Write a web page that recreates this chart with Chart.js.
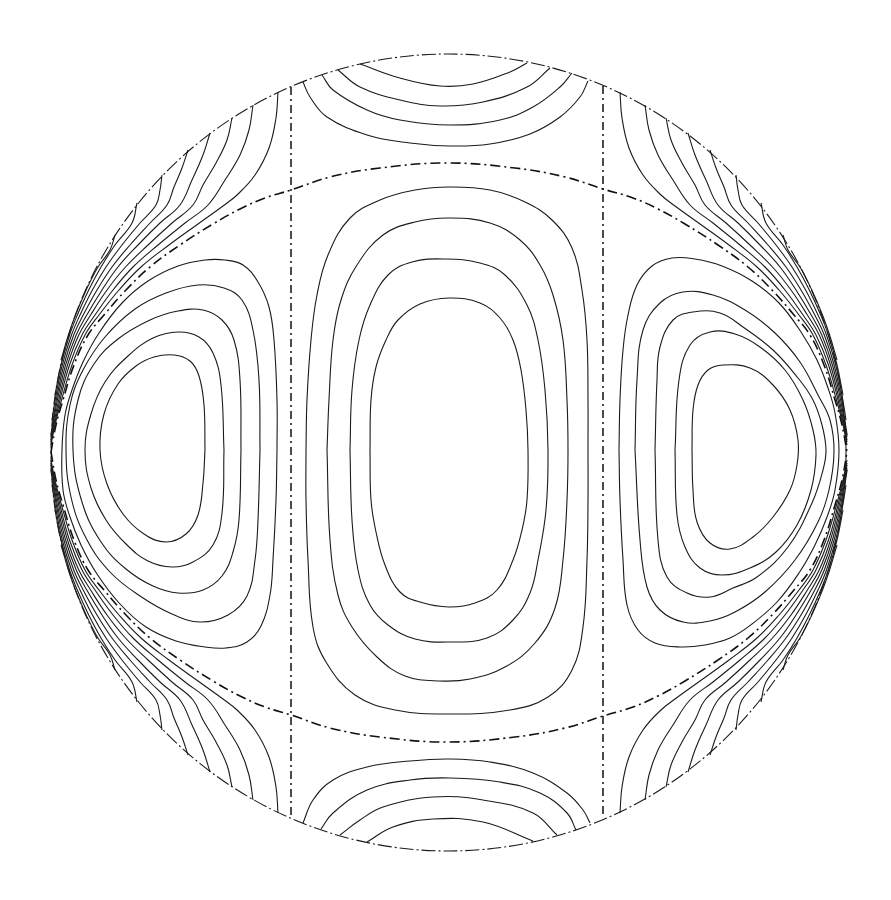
<!DOCTYPE html>
<html>
<head>
<meta charset="utf-8">
<style>
  html, body { margin: 0; padding: 0; background: #ffffff; }
  canvas { display: block; }
</style>
<script src="https://cdn.jsdelivr.net/npm/chart.js@4/dist/chart.umd.min.js"></script>
</head>
<body>
<canvas id="c" width="891" height="900"></canvas>
<script>
// ---- Plot frame (data units = reference picture units) ----
const xRange = [0, 891];
const yRange = [0, 900];
const boundaryCenter = [448.5, 452.5];
const boundaryRadii = [397.5, 398.5];

// ---- Nodal lines (dash-dot) ----
const nodalVerticalLeft = [[291, 87], [291, 818]];
const nodalVerticalRight = [[603, 86], [603, 818]];
const nodalTop = [[51,452],[56,425],[63,400],[74,365],[88,335],[104,315],[126,290],[150,267],[180,245],[213,224],[240,209],[265,198],[291,190],[330,177],[380,168],[447,163],[515,168],[565,177],[603,189],[633,198],[658,209],[685,224],[718,245],[748,267],[772,290],[794,315],[810,335],[824,365],[835,400],[842,425],[847,452]];
const nodalBottom = [[51,452],[56,480],[63,505],[74,540],[88,570],[104,590],[126,615],[150,638],[180,660],[213,681],[240,696],[265,707],[291,715],[330,728],[380,737],[447,742],[515,737],[565,728],[603,716],[633,707],[658,696],[685,681],[718,660],[748,638],[772,615],[794,590],[810,570],[824,540],[835,505],[842,480],[847,452]];

// ---- Central closed contours (outer to inner) ----
const centerLoop1 = [[306,450],[307,400],[311,340],[317,295],[328,255],[350,218],[380,200],[415,190],[450,187],[490,190],[525,202],[552,220],[572,248],[582,290],[587,340],[588,400],[588,450],[588,500],[587,560],[583,627],[572,670],[548,697],[510,710],[450,714],[395,710],[355,695],[326,662],[313,627],[308,560],[306,500],[306,450]];
const centerLoop2 = [[327,450],[329,400],[333,340],[341,300],[357,265],[383,235],[415,222],[450,218],[490,223],[520,240],[540,265],[553,295],[563,340],[567,400],[568,450],[567,500],[563,560],[555,608],[535,643],[505,667],[470,679],[440,681],[405,676],[377,657],[352,627],[338,595],[330,540],[327,450]];
const centerLoop3 = [[350,450],[352,390],[359,340],[370,305],[388,275],[412,262],[445,259],[480,263],[505,275],[527,305],[538,340],[545,390],[548,450],[546,510],[538,560],[530,593],[513,620],[487,638],[450,642],[415,639],[388,625],[370,605],[358,570],[352,520],[350,450]];
const centerLoop4 = [[370,450],[371,400],[376,367],[386,340],[398,320],[420,304],[449,298],[480,303],[500,318],[513,340],[521,370],[526,410],[528,450],[527,500],[522,530],[513,560],[497,590],[475,603],[449,607],[420,602],[400,592],[385,565],[376,532],[371,500],[370,450]];

// ---- Left lobe contours (outer to inner) ----
const leftLobe1 = [[277,450],[276,500],[273,560],[270,595],[261,626],[247,642],[226,648],[205,647],[176,641],[146,627],[120,604],[97,574],[81,545],[70,517],[63,490],[62,450],[65,415],[72,390],[83,362],[99,333],[122,303],[148,281],[178,266],[205,260],[225,260],[243,265],[258,282],[269,307],[274,340],[277,400],[277,450]];
const leftLobe2 = [[260,450],[258,520],[255,560],[247,596],[228,615],[200,622],[172,614],[140,596],[110,572],[86,538],[71,497],[66,450],[70,405],[83,370],[105,337],[135,309],[166,293],[198,285],[224,288],[242,300],[253,330],[259,380],[260,450]];
const leftLobe3 = [[241,450],[239,520],[233,552],[222,576],[203,590],[178,593],[153,586],[126,569],[101,542],[82,502],[73,450],[78,400],[94,364],[118,339],[150,320],[178,311],[203,310],[222,320],[234,340],[240,380],[241,450]];
const leftLobe4 = [[224,450],[222,513],[213,545],[193,562],[172,567],[148,561],[126,544],[106,520],[91,488],[85,450],[91,414],[105,382],[128,356],[153,338],[178,332],[199,337],[213,353],[221,385],[224,450]];
const leftLobe5 = [[205,450],[203,483],[198,515],[186,534],[166,542],[144,534],[123,514],[107,484],[100,450],[104,414],[118,384],[136,366],[154,357],[174,355],[190,361],[199,376],[204,405],[205,450]];

// ---- Right lobe contours (outer to inner) ----
const rightLobe1 = [[619,450],[620,500],[623,560],[627,605],[638,630],[655,643],[680,647],[705,645],[730,638],[752,624],[777,602],[799,573],[815,545],[827,517],[835,490],[839,450],[835,413],[828,388],[817,360],[801,332],[779,303],[752,281],[722,266],[695,259],[672,258],[652,266],[637,285],[628,315],[623,350],[620,400],[619,450]];
const rightLobe2 = [[635,450],[640,540],[647,587],[660,610],[683,622],[710,621],[735,612],[765,592],[795,560],[818,522],[829,490],[834,452],[830,420],[818,395],[800,362],[775,333],[745,310],[713,295],[683,292],[660,303],[643,330],[637,380],[635,450]];
const rightLobe3 = [[655,450],[658,540],[667,577],[687,593],[710,597],[733,588],[757,577],[788,547],[812,503],[823,470],[826,450],[822,425],[813,400],[798,378],[773,350],[743,327],[720,313],[693,312],[673,320],[660,347],[657,380],[655,450]];
const rightLobe4 = [[675,450],[677,515],[685,547],[700,568],[722,575],[750,568],[776,552],[797,525],[811,490],[816,455],[813,430],[803,400],[785,370],[760,347],[735,334],[710,332],[690,345],[679,380],[675,450]];
const rightLobe5 = [[692,450],[693,490],[697,522],[710,543],[730,549],[753,537],[773,517],[790,490],[797,465],[798,440],[790,410],[773,385],[750,368],[723,365],[708,370],[698,385],[693,410],[692,450]];

// ---- Top and bottom boundary arcs (outer to inner) ----
const topArc1 = [[303,82],[310,97],[327,117],[367,135],[410,143],[450,146],[490,144],[530,134],[560,117],[580,97],[588,81]];
const topArc2 = [[322,75],[333,90],[367,110],[400,120],[450,125],[500,120],[533,107],[560,87],[572,73]];
const topArc3 = [[338,70],[360,87],[400,100],[440,106],[483,102],[527,87],[550,68]];
const topArc4 = [[360,64],[400,78],[440,86],[473,84],[510,72],[527,63]];
const bottomArc1 = [[303,823],[313,800],[333,780],[367,767],[410,761],[450,759],[490,762],[533,773],[567,793],[583,810],[590,823]];
const bottomArc2 = [[321,829],[333,813],[367,790],[410,780],[450,778],[500,782],[540,793],[567,813],[576,830]];
const bottomArc3 = [[340,835],[360,820],[383,807],[433,797],[483,800],[533,813],[557,835]];
const bottomArc4 = [[367,842],[393,827],[433,819],[483,822],[533,841]];

// ---- Corner contours: top-left ----
const cornerTL1 = [[278,92],[276,118],[269,148],[255,175],[237,195],[223,206],[198,224],[169,245],[141,267],[119,290],[99,315],[85,335],[72,365],[61.5,400],[55,425],[51,445]];
const cornerTL2 = [[253,105],[249,130],[240,155],[225,180],[208,205],[185,223],[158,245],[133,267],[113,290],[95,315],[82,335],[69.5,365],[60,400],[54.4,425],[51,442]];
const cornerTL3 = [[232,118],[227,140],[216,163],[203,185],[193,205],[172,223],[148,245],[125.5,267],[107,290],[90.6,315],[78.8,335],[67.5,365],[58.7,400],[53.7,425],[51,440]];
const cornerTL4 = [[210,133],[203,155],[192,180],[180,205],[160,223],[138,245],[118,267],[102,290],[86.8,315],[76.2,335],[65.6,365],[57.4,400],[53,425],[51,437]];
const cornerTL5 = [[188,150],[182,168],[174,187],[167,205],[150,223],[130,245],[112,267],[97,290],[83.2,315],[73.7,335],[63.9,365],[56.3,400],[52.4,425],[50.8,435]];
const cornerTL6 = [[162,175],[160,190],[156,205],[140,223],[122,245],[106,267],[92.4,290],[80,315],[71.5,335],[62.3,365],[55.2,400],[52,420]];
const cornerTL7 = [[137,203],[132,223],[115,245],[101,267],[88.7,290],[77.3,315],[69.6,335],[61,365],[55,395]];
const cornerTL8 = [[115,235],[110,250],[98,267],[86.2,290],[75.5,315],[68.4,335],[61,360]];

// ---- Corner contours: top-right ----
const cornerTR1 = [[620,92],[622,118],[629,148],[643,175],[661,195],[675,206],[700,224],[729,245],[757,267],[779,290],[799,315],[813,335],[826,365],[836.5,400],[843,425],[847,445]];
const cornerTR2 = [[645,105],[649,130],[658,155],[673,180],[690,205],[713,223],[740,245],[765,267],[785,290],[803,315],[816,335],[828.5,365],[838,400],[843.6,425],[847,442]];
const cornerTR3 = [[666,118],[671,140],[682,163],[695,185],[705,205],[726,223],[750,245],[772.5,267],[791,290],[807.4,315],[819.2,335],[830.5,365],[839.3,400],[844.3,425],[847,440]];
const cornerTR4 = [[688,133],[695,155],[706,180],[718,205],[738,223],[760,245],[780,267],[796,290],[811.2,315],[821.8,335],[832.4,365],[840.6,400],[845,425],[847,437]];
const cornerTR5 = [[710,150],[716,168],[724,187],[731,205],[748,223],[768,245],[786,267],[801,290],[814.8,315],[824.3,335],[834.1,365],[841.7,400],[845.6,425],[847.2,435]];
const cornerTR6 = [[736,175],[738,190],[742,205],[758,223],[776,245],[792,267],[805.6,290],[818,315],[826.5,335],[835.7,365],[842.8,400],[846,420]];
const cornerTR7 = [[761,203],[766,223],[783,245],[797,267],[809.3,290],[820.7,315],[828.4,335],[837,365],[843,395]];
const cornerTR8 = [[783,235],[788,250],[800,267],[811.8,290],[822.5,315],[829.6,335],[837,360]];

// ---- Corner contours: bottom-left ----
const cornerBL1 = [[278,813],[276,787],[269,757],[255,730],[237,710],[223,699],[198,681],[169,660],[141,638],[119,615],[99,590],[85,570],[72,540],[61.5,505],[55,480],[51,460]];
const cornerBL2 = [[253,800],[249,775],[240,750],[225,725],[208,700],[185,682],[158,660],[133,638],[113,615],[95,590],[82,570],[69.5,540],[60,505],[54.4,480],[51,463]];
const cornerBL3 = [[232,787],[227,765],[216,742],[203,720],[193,700],[172,682],[148,660],[125.5,638],[107,615],[90.6,590],[78.8,570],[67.5,540],[58.7,505],[53.7,480],[51,465]];
const cornerBL4 = [[210,772],[203,750],[192,725],[180,700],[160,682],[138,660],[118,638],[102,615],[86.8,590],[76.2,570],[65.6,540],[57.4,505],[53,480],[51,468]];
const cornerBL5 = [[188,755],[182,737],[174,718],[167,700],[150,682],[130,660],[112,638],[97,615],[83.2,590],[73.7,570],[63.9,540],[56.3,505],[52.4,480],[50.8,470]];
const cornerBL6 = [[162,730],[160,715],[156,700],[140,682],[122,660],[106,638],[92.4,615],[80,590],[71.5,570],[62.3,540],[55.2,505],[52,485]];
const cornerBL7 = [[137,702],[132,682],[115,660],[101,638],[88.7,615],[77.3,590],[69.6,570],[61,540],[55,510]];
const cornerBL8 = [[115,670],[110,655],[98,638],[86.2,615],[75.5,590],[68.4,570],[61,545]];

// ---- Corner contours: bottom-right ----
const cornerBR1 = [[620,813],[622,787],[629,757],[643,730],[661,710],[675,699],[700,681],[729,660],[757,638],[779,615],[799,590],[813,570],[826,540],[836.5,505],[843,480],[847,460]];
const cornerBR2 = [[645,800],[649,775],[658,750],[673,725],[690,700],[713,682],[740,660],[765,638],[785,615],[803,590],[816,570],[828.5,540],[838,505],[843.6,480],[847,463]];
const cornerBR3 = [[666,787],[671,765],[682,742],[695,720],[705,700],[726,682],[750,660],[772.5,638],[791,615],[807.4,590],[819.2,570],[830.5,540],[839.3,505],[844.3,480],[847,465]];
const cornerBR4 = [[688,772],[695,750],[706,725],[718,700],[738,682],[760,660],[780,638],[796,615],[811.2,590],[821.8,570],[832.4,540],[840.6,505],[845,480],[847,468]];
const cornerBR5 = [[710,755],[716,737],[724,718],[731,700],[748,682],[768,660],[786,638],[801,615],[814.8,590],[824.3,570],[834.1,540],[841.7,505],[845.6,480],[847.2,470]];
const cornerBR6 = [[736,730],[738,715],[742,700],[758,682],[776,660],[792,638],[805.6,615],[818,590],[826.5,570],[835.7,540],[842.8,505],[846,485]];
const cornerBR7 = [[761,702],[766,682],[783,660],[797,638],[809.3,615],[820.7,590],[828.4,570],[837,540],[843,510]];
const cornerBR8 = [[783,670],[788,655],[800,638],[811.8,615],[822.5,590],[829.6,570],[837,545]];

// ---- Build datasets ----
const contourLines = [
  centerLoop1, centerLoop2, centerLoop3, centerLoop4,
  leftLobe1, leftLobe2, leftLobe3, leftLobe4, leftLobe5,
  rightLobe1, rightLobe2, rightLobe3, rightLobe4, rightLobe5,
  topArc1, topArc2, topArc3, topArc4,
  bottomArc1, bottomArc2, bottomArc3, bottomArc4,
  cornerTL1, cornerTL2, cornerTL3, cornerTL4, cornerTL5, cornerTL6, cornerTL7, cornerTL8,
  cornerTR1, cornerTR2, cornerTR3, cornerTR4, cornerTR5, cornerTR6, cornerTR7, cornerTR8,
  cornerBL1, cornerBL2, cornerBL3, cornerBL4, cornerBL5, cornerBL6, cornerBL7, cornerBL8,
  cornerBR1, cornerBR2, cornerBR3, cornerBR4, cornerBR5, cornerBR6, cornerBR7, cornerBR8
];
const nodalCurves = [nodalTop, nodalBottom];
const nodalStraight = [nodalVerticalLeft, nodalVerticalRight];

function toXY(pts) { return pts.map(p => ({ x: p[0], y: p[1] })); }

const datasets = [];
contourLines.forEach(pts => datasets.push({
  data: toXY(pts), showLine: true, fill: false,
  borderColor: '#1b1b1b', borderWidth: 1.1, tension: 0.4,
  pointRadius: 0, pointHoverRadius: 0
}));
nodalCurves.forEach(pts => datasets.push({
  data: toXY(pts), showLine: true, fill: false,
  borderColor: '#111111', borderWidth: 1.6, tension: 0.4,
  borderDash: [10, 4, 2, 4],
  pointRadius: 0, pointHoverRadius: 0
}));
nodalStraight.forEach(pts => datasets.push({
  data: toXY(pts), showLine: true, fill: false,
  borderColor: '#111111', borderWidth: 1.5, tension: 0,
  borderDash: [8, 4, 2, 4],
  pointRadius: 0, pointHoverRadius: 0
}));

const boundaryPlugin = {
  id: 'boundary',
  beforeDatasetsDraw(chart) {
    const { ctx, scales } = chart;
    const xs = scales.x, ys = scales.y;
    const cx = xs.getPixelForValue(boundaryCenter[0]);
    const cy = ys.getPixelForValue(boundaryCenter[1]);
    const rx = Math.abs(xs.getPixelForValue(boundaryCenter[0] + boundaryRadii[0]) - cx);
    const ry = Math.abs(ys.getPixelForValue(boundaryCenter[1] + boundaryRadii[1]) - cy);
    ctx.save();
    ctx.beginPath();
    ctx.ellipse(cx, cy, rx, ry, 0, 0, Math.PI * 2);
    ctx.setLineDash([14, 3, 2, 3]);
    ctx.lineWidth = 1.1;
    ctx.strokeStyle = '#1b1b1b';
    ctx.stroke();
    ctx.restore();
  }
};

new Chart(document.getElementById('c'), {
  type: 'scatter',
  data: { datasets },
  options: {
    responsive: false,
    animation: false,
    devicePixelRatio: 1,
    layout: { padding: 0 },
    scales: {
      x: { type: 'linear', min: xRange[0], max: xRange[1], display: false },
      y: { type: 'linear', min: yRange[0], max: yRange[1], reverse: true, display: false }
    },
    plugins: { legend: { display: false }, tooltip: { enabled: false } },
    events: []
  },
  plugins: [boundaryPlugin]
});
</script>
</body>
</html>
